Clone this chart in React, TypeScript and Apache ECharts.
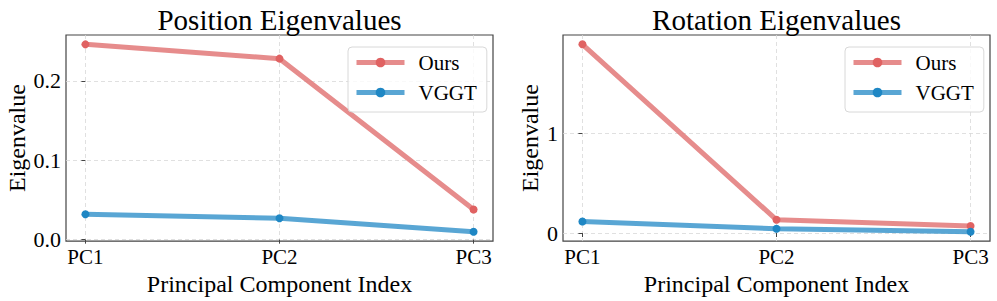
import React, { useEffect, useRef } from "react";
import * as echarts from "echarts";

const categories = ["PC1", "PC2", "PC3"];
const posOurs = [0.246, 0.228, 0.038];
const posVggt = [0.032, 0.027, 0.01];
const rotOurs = [1.887, 0.132, 0.07];
const rotVggt = [0.116, 0.043, 0.013];
const posTicks = [0, 0.1, 0.2];
const rotTicks = [0, 1];
const titles = ["Position Eigenvalues", "Rotation Eigenvalues"];
const seriesNames = ["Ours", "VGGT"];

const FONT = "Liberation Serif";
const RED_LINE = "rgba(226,120,120,0.85)";
const RED_DOT = "#e06262";
const BLUE_LINE = "rgba(60,150,205,0.85)";
const BLUE_DOT = "#1f87c4";

const toPts = (arr: number[]) => arr.map((v, i) => [i, v]);

export default function App() {
  const ref = useRef<HTMLDivElement>(null);
  useEffect(() => {
    document.body.style.margin = "0";
    const chart = echarts.init(ref.current!, null, { renderer: "svg" });
    const grids = [
      { left: 66, top: 35, width: 427, height: 208 },
      { left: 563, top: 35, width: 427, height: 208 },
    ];
    const xAxis = grids.map((_, gi) => ({
      type: "value",
      gridIndex: gi,
      min: -0.1,
      max: 2.1,
      axisLine: { show: false },
      axisTick: { show: true, length: 4, customValues: [0, 1, 2], lineStyle: { color: "#444", width: 1 } },
      axisLabel: {
        customValues: [0, 1, 2],
        formatter: (v: number) => categories[Math.round(v)],
        fontFamily: FONT,
        fontSize: 21,
        color: "#000",
        margin: 5,
      },
      splitLine: { show: true, lineStyle: { color: "#d8d8d8", width: 0.8, type: [4, 3] } },
      name: "Principal Component Index",
      nameLocation: "middle",
      nameGap: 26,
      nameTextStyle: { fontFamily: FONT, fontSize: 24, color: "#000", verticalAlign: "top" },
    }));
    const yCfg = [
      { min: -0.0018, max: 0.2578, ticks: posTicks, fmt: (v: number) => v.toFixed(1), gap: 37 },
      { min: -0.0807, max: 1.98, ticks: rotTicks, fmt: (v: number) => String(Math.round(v)), gap: 21 },
    ];
    const yAxis = yCfg.map((c, gi) => ({
      type: "value",
      gridIndex: gi,
      min: c.min,
      max: c.max,
      axisLine: { show: false },
      axisTick: { show: true, length: 4, customValues: c.ticks, lineStyle: { color: "#444", width: 1 } },
      axisLabel: {
        customValues: c.ticks,
        formatter: c.fmt,
        fontFamily: FONT,
        fontSize: 22,
        color: "#000",
        margin: 5,
      },
      splitLine: { show: true, lineStyle: { color: "#d8d8d8", width: 0.8, type: [4, 3] } },
      name: "Eigenvalue",
      nameLocation: "middle",
      nameGap: c.gap,
      nameTextStyle: { fontFamily: FONT, fontSize: 24, color: "#000" },
    }));
    const data = [
      [posOurs, posVggt],
      [rotOurs, rotVggt],
    ];
    const series: any[] = [];
    data.forEach((pair, gi) => {
      pair.forEach((arr, si) => {
        series.push({
          type: "line",
          name: seriesNames[si],
          xAxisIndex: gi,
          yAxisIndex: gi,
          data: toPts(arr),
          symbol: "circle",
          symbolSize: 8,
          lineStyle: { width: 5, color: si === 0 ? RED_LINE : BLUE_LINE },
          itemStyle: { color: si === 0 ? RED_DOT : BLUE_DOT },
          z: 2 + si,
        });
      });
    });
    const legendBase = {
      orient: "vertical",
      top: 47,
      itemWidth: 48,
      itemHeight: 12,
      itemGap: 9,
      padding: [5, 10, 9, 6],
      backgroundColor: "rgba(255,255,255,0.8)",
      borderColor: "#d8d8d8",
      borderWidth: 1,
      borderRadius: 4,
      lineStyle: { width: 5 },
      data: seriesNames,
      textStyle: { fontFamily: FONT, fontSize: 21, color: "#000", lineHeight: 20, padding: [0, 0, 0, 9] },
    };
    chart.setOption({
      animation: false,
      backgroundColor: "#fff",
      textStyle: { fontFamily: FONT },
      title: titles.map((t, gi) => ({
        text: t,
        left: grids[gi].left + grids[gi].width / 2,
        top: 5,
        textAlign: "center",
        padding: 0,
        textStyle: { fontFamily: FONT, fontSize: 29, fontWeight: "normal", color: "#000" },
      })),
      legend: [
        { ...legendBase, left: 348 },
        { ...legendBase, left: 845 },
      ],
      grid: grids.map((g) => ({ ...g, show: true, borderColor: "#444", borderWidth: 1.2, backgroundColor: "transparent" })),
      xAxis,
      yAxis,
      series,
    });
    return () => chart.dispose();
  }, []);
  return <div ref={ref} style={{ width: 997, height: 301 }} />;
}
